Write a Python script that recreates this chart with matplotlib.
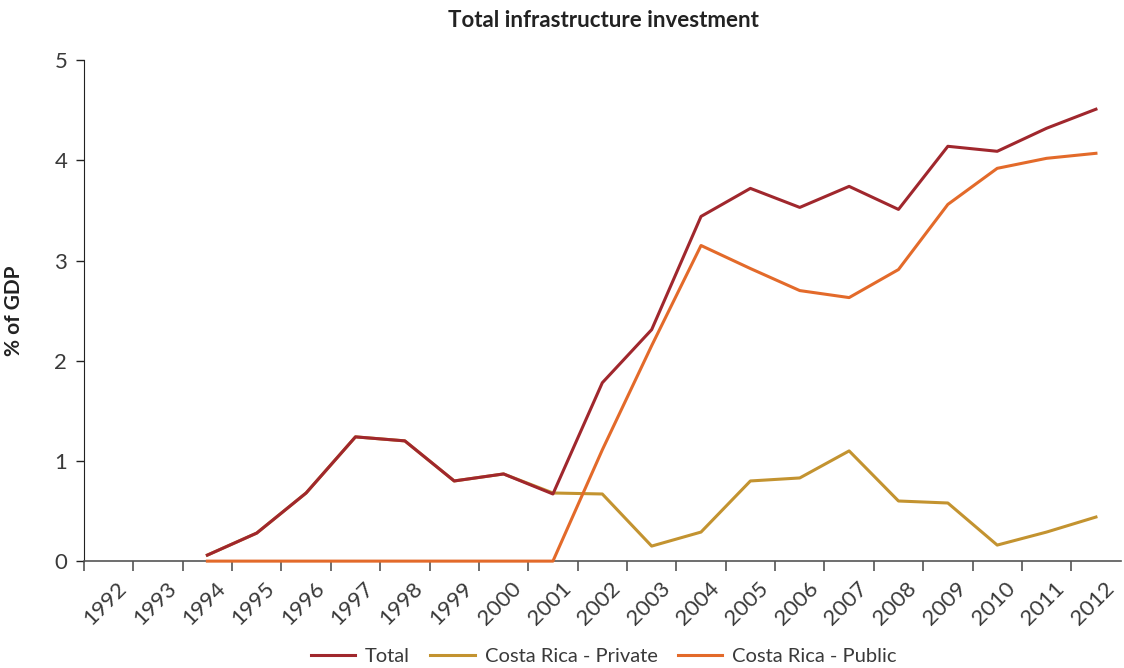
import matplotlib.pyplot as plt
import matplotlib.transforms as mtransforms
import numpy as np

plt.rcParams['font.family'] = ['Lato', 'DejaVu Sans']

# data (% of GDP)
years = [str(y) for y in range(1992, 2013)]
total = [None, None, 0.06, 0.28, 0.68, 1.24, 1.20, 0.80, 0.87, 0.67,
         1.78, 2.31, 3.44, 3.72, 3.53, 3.74, 3.51, 4.14, 4.09, 4.32, 4.51]
private = [None, None, 0.06, 0.28, 0.68, 1.24, 1.20, 0.80, 0.87, 0.68,
           0.67, 0.15, 0.29, 0.80, 0.83, 1.10, 0.60, 0.58, 0.16, 0.29, 0.44]
public = [None, None, 0.0, 0.0, 0.0, 0.0, 0.0, 0.0, 0.0, 0.0,
          1.11, 2.15, 3.15, 2.92, 2.70, 2.63, 2.91, 3.56, 3.92, 4.02, 4.07]

c_total = '#A0272D'
c_private = '#C39330'
c_public = '#E36A2A'

def arr(v):
    return np.array([np.nan if x is None else x for x in v], dtype=float)

fig = plt.figure(figsize=(11.24, 6.68), dpi=100)
ax = fig.add_axes([0.0747, 0.160, 0.9223, 0.750])

x = np.arange(len(years))
ax.plot(x, arr(private), color=c_private, lw=2.2, zorder=2, label='Costa Rica - Private')
ax.plot(x, arr(public), color=c_public, lw=2.2, zorder=3, label='Costa Rica - Public', clip_on=False)
ax.plot(x, arr(total), color=c_total, lw=2.2, zorder=4, label='Total')

ax.set_xlim(-0.5, len(years) - 0.5)
ax.set_ylim(0, 5)
ax.set_yticks([0, 1, 2, 3, 4, 5])

# labels at category centres, tick marks at the boundaries
ax.set_xticks(x)
ax.set_xticklabels(years, rotation=45, ha='right', va='top', rotation_mode='anchor')
ax.set_xticks(np.arange(-0.5, len(years) - 0.5, 1.0), minor=True)
ax.tick_params(axis='x', which='major', length=0, pad=12, labelsize=16, labelcolor='#3a3a3a')
ax.tick_params(axis='x', which='minor', length=7, width=1.2, color='#555555', direction='out')
ax.tick_params(axis='y', length=6, width=1.0, color='#222222', labelsize=16, labelcolor='#3a3a3a', pad=6)
# nudge year labels a bit right, like the reference
off = mtransforms.ScaledTranslation(8 / 100, 0, fig.dpi_scale_trans)
for t in ax.get_xticklabels():
    t.set_transform(t.get_transform() + off)

for s in ['top', 'right']:
    ax.spines[s].set_visible(False)
ax.spines['left'].set_color('#222222')
ax.spines['bottom'].set_color('#555555')
ax.spines['bottom'].set_linewidth(1.2)

ax.set_ylabel('% of GDP', fontsize=15, fontweight='bold', color='#222222')
ax.yaxis.set_label_coords(-0.058, 0.5)
fig.text(0.537, 0.97, 'Total infrastructure investment', ha='center', va='center',
         fontsize=16, fontweight='bold', color='#222222')

h, l = ax.get_legend_handles_labels()
order = [2, 0, 1]
fig.legend([h[i] for i in order], [l[i] for i in order], loc='center', ncol=3,
           bbox_to_anchor=(0.537, 0.017), frameon=False, fontsize=14.5,
           handlelength=2.2, columnspacing=1.0, handletextpad=0.5, labelcolor='#3a3a3a')

fig.savefig('out.png', dpi=100)
